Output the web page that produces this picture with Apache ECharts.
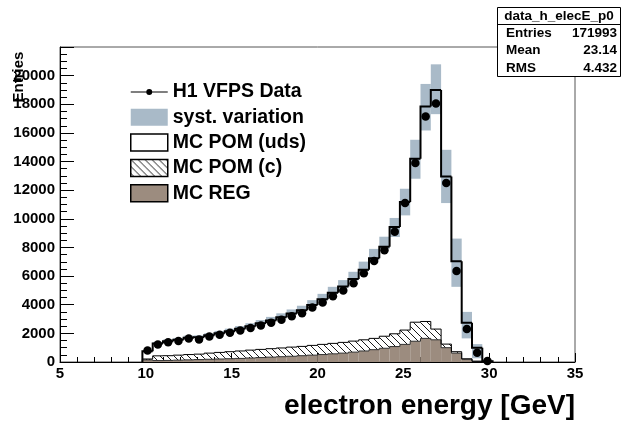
<!DOCTYPE html>
<html>
<head>
    <meta charset="utf-8"/>
    <script src="https://cdn.jsdelivr.net/npm/echarts@6/dist/echarts.min.js"></script>
    <style>html, body { margin: 0; padding: 0; background: #fff; }</style>
</head>
<body>
<div id="main" style="width: 622px;height:427px;"></div>
<script type="text/javascript">
    // histogram binning: 0.6 GeV bins, first filled bin starts at 9.8 GeV
    var binLow = 9.8;
    var binWidth = 0.6;

    // H1 VFPS data (entries per bin)
    var dataCounts = [800, 1230, 1380, 1470, 1640, 1580, 1780, 1900, 2050, 2200, 2380, 2550, 2750, 2950, 3200, 3400, 3800,
        4150, 4600, 5000, 5500, 6200, 7050, 7800, 9100, 11100, 13900, 17150, 18050, 12500, 6350, 2300, 650, 70];
    // total MC (uds + c + REG)
    var mcTotal = [750, 1300, 1450, 1550, 1700, 1720, 1860, 2000, 2150, 2320, 2500, 2700, 2900, 3130, 3380, 3620, 3980,
        4380, 4830, 5270, 5800, 6450, 7250, 8050, 9430, 11170, 14190, 17840, 19000, 12960, 7040, 2740, 1000, 50];
    // systematic band edges
    var systLow = [740, 1280, 1430, 1530, 1680, 1700, 1830, 1970, 2120, 2290, 2460, 2660, 2860, 3080, 3330, 3570, 3920,
        4310, 4760, 5190, 5710, 6350, 7150, 7900, 8730, 10240, 12800, 16170, 17310, 11100, 5250, 1650, 260, 0];
    var systHigh = [810, 1400, 1570, 1680, 1840, 1860, 2010, 2170, 2330, 2510, 2710, 2930, 3150, 3400, 3670, 3930, 4320,
        4760, 5250, 5720, 6300, 7010, 7900, 8750, 10060, 12100, 15520, 19420, 20790, 14820, 8620, 3500, 1250, 150];
    // MC components
    var mcReg = [150, 100, 110, 130, 150, 170, 190, 210, 230, 250, 280, 310, 340, 370, 400, 440, 480,
        520, 570, 620, 690, 770, 860, 960, 1080, 1230, 1450, 1650, 1550, 1000, 620, 200, 40, 0];
    var mcCharm = [60, 330, 330, 350, 370, 380, 430, 460, 490, 520, 550, 570, 590, 610, 640, 650, 680,
        710, 730, 750, 770, 780, 790, 840, 890, 1000, 1330, 1180, 750, 250, 100, 20, 20, 0];

    var statNames = ['Entries', 'Mean', 'RMS'];
    var statValues = ['171993', '23.14', '4.432'];

    var FONT = '"Liberation Sans", Arial, sans-serif';
    var systColor = '#a9bac8';
    var regColor = '#9c8c7f';

    // hatch pattern "\\\\" for the charm component
    function makeHatch() {
        var c = document.createElement('canvas');
        c.width = 7;
        c.height = 7;
        var g = c.getContext('2d');
        g.strokeStyle = '#000';
        g.lineWidth = 0.9;
        g.beginPath();
        g.moveTo(-1, -1); g.lineTo(8, 8);
        g.moveTo(-1, 6); g.lineTo(1, 8);
        g.moveTo(6, -1); g.lineTo(8, 1);
        g.stroke();
        return c;
    }
    var hatch = {image: makeHatch(), repeat: 'repeat'};

    var nBins = dataCounts.length;
    var cTop = [], regBand = [], charmBand = [], udsBand = [], systBand = [];
    var regLine = [], charmLine = [], totalLine = [], points = [];
    for (var i = 0; i < nBins; i++) {
        var x0 = binLow + i * binWidth, x1 = x0 + binWidth;
        cTop[i] = mcReg[i] + mcCharm[i];
        regBand.push([x0, x1, 0, mcReg[i]]);
        charmBand.push([x0, x1, mcReg[i], cTop[i]]);
        udsBand.push([x0, x1, cTop[i], mcTotal[i]]);
        systBand.push([x0, x1, systLow[i], systHigh[i]]);
        regLine.push([x0, x1, mcReg[i], i > 0 ? mcReg[i - 1] : 0]);
        charmLine.push([x0, x1, cTop[i], i > 0 ? cTop[i - 1] : 0]);
        totalLine.push([x0, x1, mcTotal[i], i > 0 ? mcTotal[i - 1] : 0]);
        points.push([x0 + binWidth / 2, dataCounts[i]]);
    }

    function rectItem(style) {
        return function (params, api) {
            var p0 = api.coord([api.value(0), api.value(3)]);
            var p1 = api.coord([api.value(1), api.value(2)]);
            return {
                type: 'rect',
                shape: {x: p0[0], y: p0[1], width: p1[0] - p0[0], height: p1[1] - p0[1]},
                style: style
            };
        };
    }

    function stepItem(style) {
        return function (params, api) {
            var x0 = api.value(0), x1 = api.value(1), v = api.value(2), prev = api.value(3);
            var pts = [api.coord([x0, prev]), api.coord([x0, v]), api.coord([x1, v])];
            if (params.dataIndex === nBins - 1) pts.push(api.coord([x1, 0]));
            return {type: 'polyline', shape: {points: pts}, style: style};
        };
    }

    function band(name, data, style, z) {
        return {name: name, type: 'custom', data: data, z: z, renderItem: rectItem(style),
            encode: {x: [0, 1], y: [2, 3]}, itemStyle: {color: style.fill}, silent: true};
    }

    function step(name, data, style, z) {
        return {name: name, type: 'custom', data: data, z: z, renderItem: stepItem(style),
            encode: {x: [0, 1], y: [2, 3]}, silent: true};
    }

    var dataIcon = 'path://M0,0h0.01v0.01h-0.01Z M36.99,16.99h0.01v0.01h-0.01Z M0,7.9H37V9.1H0Z ' +
        'M15.5,8.5a3,3 0 1,1 6,0a3,3 0 1,1 -6,0Z';

    var myChart = echarts.init(document.getElementById('main'));

    var statText = [];
    for (var s = 0; s < statNames.length; s++) {
        statText.push({type: 'text', x: 506, y: 33 + s * 17.5, z: 21,
            style: {text: statNames[s], font: 'bold 13.5px ' + FONT, fill: '#000', align: 'left', verticalAlign: 'middle'}});
        statText.push({type: 'text', x: 617, y: 33 + s * 17.5, z: 21,
            style: {text: statValues[s], font: 'bold 13.5px ' + FONT, fill: '#000', align: 'right', verticalAlign: 'middle'}});
    }

    option = {
        animation: false,
        backgroundColor: '#fff',
        grid: {left: 60, right: 47, top: 47, bottom: 65, show: true, borderColor: '#555', borderWidth: 1},
        xAxis: {
            type: 'value', min: 5, max: 35, interval: 5,
            axisLine: {lineStyle: {color: '#000', width: 1}},
            axisTick: {inside: true, length: 9, lineStyle: {color: '#000'}},
            minorTick: {show: true, splitNumber: 5, length: 5, lineStyle: {color: '#000'}},
            splitLine: {show: false},
            axisLabel: {color: '#000', fontSize: 15, fontWeight: 'bold', fontFamily: FONT, margin: 4}
        },
        yAxis: {
            type: 'value', min: 0, max: 22000, interval: 2000,
            axisLine: {show: true, lineStyle: {color: '#000', width: 1}},
            axisTick: {show: true, inside: true, length: 14, lineStyle: {color: '#000'}},
            minorTick: {show: true, splitNumber: 4, length: 7, lineStyle: {color: '#000'}},
            splitLine: {show: false},
            axisLabel: {
                color: '#000', fontSize: 15, fontWeight: 'bold', fontFamily: FONT, margin: 5, showMaxLabel: false,
                formatter: function (v) { return String(v); }
            }
        },
        legend: {
            orient: 'vertical', left: 130, top: 82, padding: 0,
            itemWidth: 37, itemHeight: 17, itemGap: 5.3,
            selectedMode: false,
            textStyle: {fontSize: 19.5, fontWeight: 'bold', color: '#000', fontFamily: FONT},
            data: [
                {name: 'H1 VFPS Data', icon: dataIcon, itemStyle: {color: '#000', borderWidth: 0, opacity: 1}},
                {name: 'syst. variation', icon: 'rect', itemStyle: {color: systColor, borderWidth: 0}},
                {name: 'MC POM (uds)', icon: 'rect', itemStyle: {color: '#fff', borderColor: '#000', borderWidth: 1.5}},
                {name: 'MC POM (c)', icon: 'rect', itemStyle: {color: hatch, borderColor: '#000', borderWidth: 1.5}},
                {name: 'MC REG', icon: 'rect', itemStyle: {color: regColor, borderColor: '#000', borderWidth: 1.5}}
            ]
        },
        graphic: [
            {type: 'text', x: 19, y: 77, rotation: Math.PI / 2, z: 5,
                style: {text: 'Entries', font: 'bold 15px ' + FONT, fill: '#000', align: 'center', verticalAlign: 'middle'}},
            {type: 'text', x: 575, y: 406, z: 5,
                style: {text: 'electron energy [GeV]', font: 'bold 28px ' + FONT, fill: '#000', align: 'right', verticalAlign: 'middle'}},
            {type: 'rect', shape: {x: 497.5, y: 7.5, width: 123, height: 69}, z: 20,
                style: {fill: '#fff', stroke: '#000', lineWidth: 1}},
            {type: 'line', shape: {x1: 497.5, y1: 24.5, x2: 620.5, y2: 24.5}, z: 21, style: {stroke: '#000', lineWidth: 1}},
            {type: 'text', x: 559, y: 16, z: 21,
                style: {text: 'data_h_elecE_p0', font: 'bold 13.5px ' + FONT, fill: '#000', align: 'center', verticalAlign: 'middle'}}
        ].concat(statText),
        series: [
            band('MC REG', regBand, {fill: regColor}, 1),
            band('MC POM (c)', charmBand, {fill: hatch}, 1),
            band('MC POM (uds)', udsBand, {fill: '#fff'}, 1),
            band('syst. variation', systBand, {fill: systColor}, 2),
            step('regOutline', regLine, {stroke: '#333', lineWidth: 1, fill: null}, 3),
            step('charmOutline', charmLine, {stroke: '#000', lineWidth: 1, fill: null}, 3),
            step('mcOutline', totalLine, {stroke: '#000', lineWidth: 2, fill: null}, 4),
            {
                name: 'H1 VFPS Data', type: 'scatter', data: points, z: 5,
                symbol: 'circle', symbolSize: 8.5, itemStyle: {color: '#000', opacity: 1}, silent: true
            }
        ]
    };

    myChart.setOption(option);
</script>
</body>
</html>
